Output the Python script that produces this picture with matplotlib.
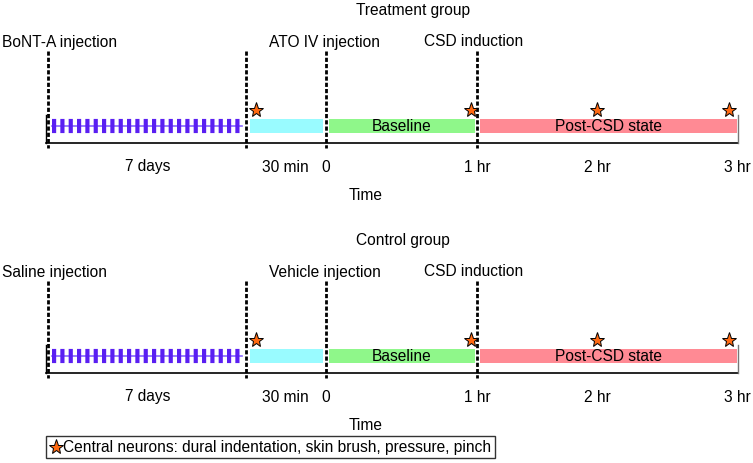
import matplotlib
matplotlib.use("Agg")
import matplotlib.pyplot as plt
from matplotlib.patches import Rectangle

plt.rcParams['font.family'] = ['Liberation Sans', 'DejaVu Sans']
plt.rcParams['lines.scale_dashes'] = False

# ---- data ----
groups = ["Treatment group", "Control group"]
event_labels = [["BoNT-A injection", "ATO IV injection", "CSD induction"],
                ["Saline injection", "Vehicle injection", "CSD induction"]]
tick_labels = ["7 days", "30 min", "0", "1 hr", "2 hr", "3 hr"]
segment_labels = ["", "", "Baseline", "Post-CSD state"]
legend_text = "Central neurons: dural indentation, skin brush, pressure, pinch"

# schematic timeline coordinates (not to scale)
event_x = [48, 246, 326, 477]            # dashed event lines
event_label_x = [2, 325, 474]
segment_bounds = [(52, 242), (250, 323), (329, 475), (480, 737)]
tick_x = [148, 285, 326, 477, 597, 737]
star_x = [256, 471, 597, 729]

seg_colors = ["#5a1ff2", "#99fbff", "#8ff78a", "#ff8a94"]
star_color = "#ff6a13"

W, H = 753, 463
fig = plt.figure(figsize=(W / 100, H / 100), dpi=100)
ax = fig.add_axes([0, 0, 1, 1])
ax.set_xlim(0, W)
ax.set_ylim(H, 0)
ax.axis("off")

fs = 11.2
for g, (title, evs) in enumerate(zip(groups, event_labels)):
    off = 230 * g
    ax.text(356, 10 + off, title, ha="left", va="center", fontsize=fs)
    for j, (lx, lab) in enumerate(zip(event_label_x, evs)):
        ax.text(lx, 42 + off, lab, ha="left" if j == 0 else "center",
                va="center", fontsize=fs)
    # dashed event lines
    for ex in event_x:
        ax.plot([ex, ex], [51 + off, 148 + off], color="black", lw=2.0,
                dashes=(3.0, 1.5), solid_capstyle="butt")
    # axis
    ax.plot([46, 738], [143 + off, 143 + off], color="black", lw=1.2)
    ax.plot([46, 46], [115 + off, 143 + off], color="black", lw=1.0)
    ax.plot([738, 738], [115 + off, 143 + off], color="#777777", lw=1.0)
    # segments
    y0, y1 = 119 + off, 133 + off
    for i, ((s, e), c, lab) in enumerate(zip(segment_bounds, seg_colors, segment_labels)):
        if i == 0:
            ym = (y0 + y1) / 2
            ax.plot([s, e], [ym, ym], color="#8866ff", lw=1.2)
            ax.plot([s, e], [ym, ym], color=c, lw=10.2, dashes=(3.0, 3.0),
                    solid_capstyle="butt", dash_capstyle="butt")
        else:
            ax.add_patch(Rectangle((s, y0), e - s, y1 - y0, facecolor=c,
                                   edgecolor="none"))
        if lab:
            ax.text((s + e) / 2, (y0 + y1) / 2 + 0.5, lab, ha="center",
                    va="center", fontsize=fs)
    # stars
    ax.plot(star_x, [110 + off] * len(star_x), linestyle="none", marker="*",
            markersize=11, markerfacecolor=star_color, markeredgecolor="black",
            markeredgewidth=0.7)
    # ticks
    for tx, tl in zip(tick_x, tick_labels):
        ax.text(tx, 167 + off, tl, ha="center", va="center", fontsize=fs)
    ax.text(366, 196 + off, "Time", ha="center", va="center", fontsize=fs)

# legend
txt = ax.text(63, 447.5, legend_text, ha="left", va="center", fontsize=fs,
              zorder=3)
fig.canvas.draw()
bb = txt.get_window_extent().transformed(ax.transData.inverted())
x_end = max(bb.x0, bb.x1) + 4
ax.add_patch(Rectangle((46, 436), x_end - 46, 22, facecolor="white",
                       edgecolor="#333333", lw=1.0, zorder=1))
ax.plot([56], [447], linestyle="none", marker="*", markersize=11,
        markerfacecolor=star_color, markeredgecolor="black", markeredgewidth=0.7,
        zorder=3)

fig.savefig("out.png", dpi=100)
